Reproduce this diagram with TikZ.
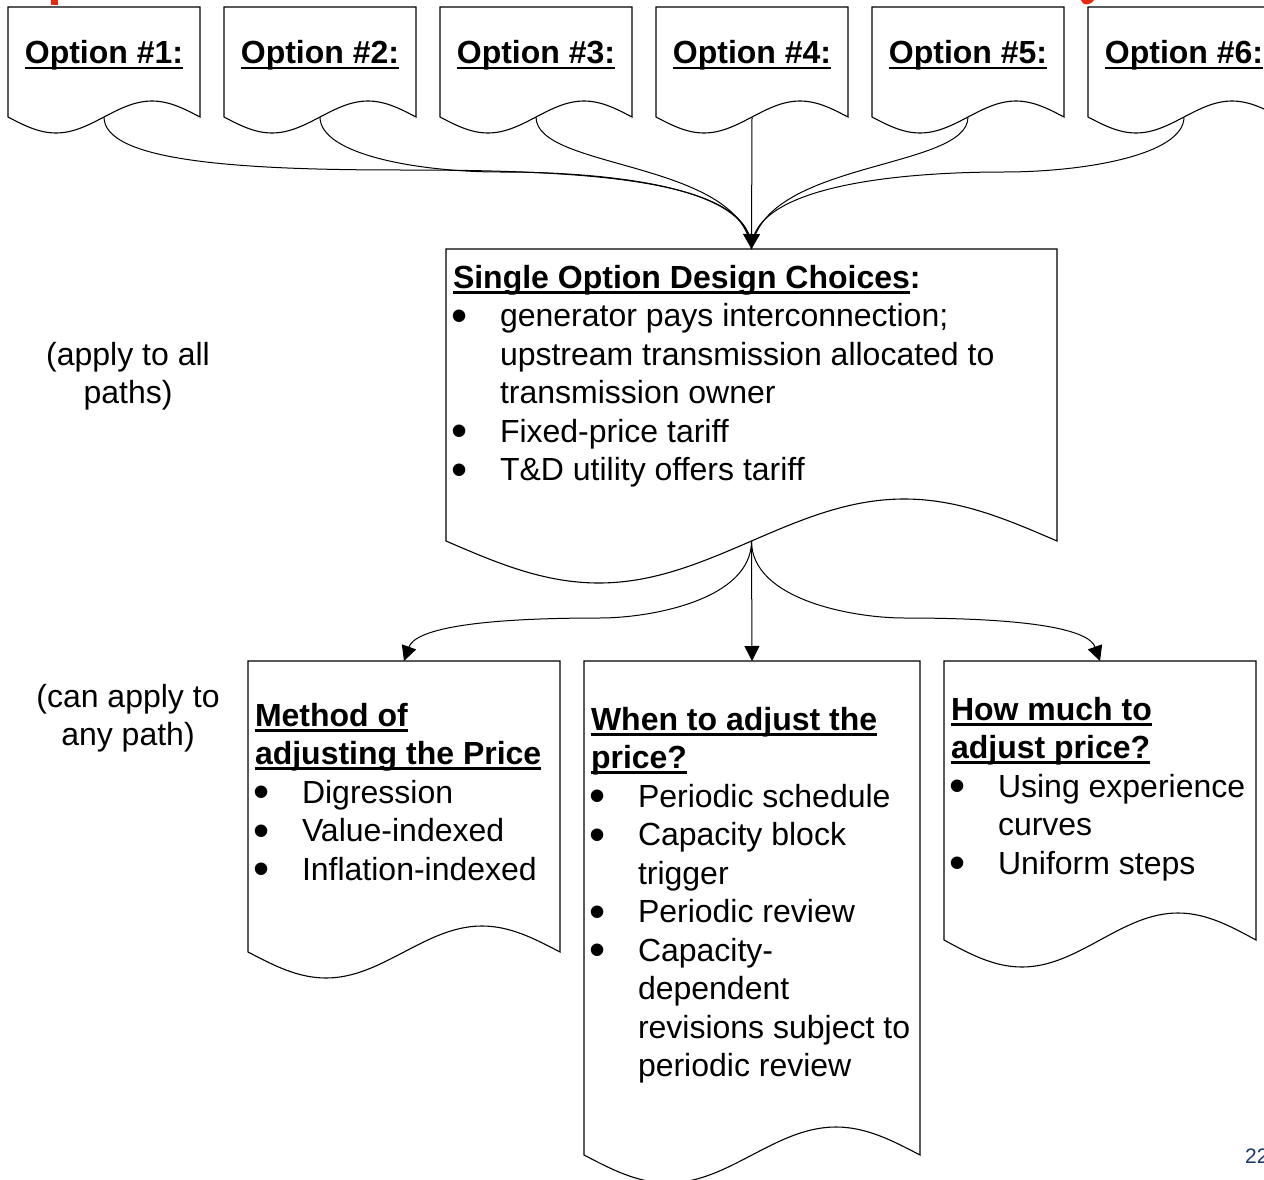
\documentclass[tikz,border=0pt]{standalone}
\usepackage{fontspec}
\setmainfont{Liberation Sans}
\usetikzlibrary{arrows.meta,calc}
\definecolor{titlered}{RGB}{232,40,12}
\definecolor{pagenum}{RGB}{28,58,110}
\newcommand\myul[1]{\setbox0\hbox{#1}\rlap{\rule[-5.5pt]{\wd0}{2.6pt}}\box0}
\newcommand\bul{\makebox[47pt][l]{\hspace*{-1.5pt}\smash{\raisebox{-4.5pt}{\fontsize{46}{46}\selectfont\textbullet}}}}
\newcommand\ind{\hspace*{47pt}}
\newcommand\docshape[2]{%
  \draw[docline] (#1.north west) -- (#1.north east) -- (#1.south east)
    sin ($(#1.south east)!0.25!(#1.south west)+(0,#2)$)
    cos ($(#1.south east)!0.5!(#1.south west)$)
    sin ($(#1.south east)!0.75!(#1.south west)-(0,#2)$)
    cos (#1.south west) -- cycle;
  \coordinate (#1w) at ($(#1.south east)!0.5!(#1.south west)$);}
\tikzset{
  docbox/.style={draw=none, inner sep=0pt, outer sep=0pt, anchor=north west},
  docline/.style={draw=black, line width=1.1pt, line join=miter},
  txt/.style={inner sep=0pt, outer sep=0pt, font=\fontsize{32}{38.5}\selectfont},
  opt/.style={txt, anchor=base, font=\fontsize{32}{38.5}\selectfont\bfseries},
  conn/.style={draw=black, line width=1pt},
  arr/.style={conn, -{Triangle[length=15pt,width=15pt]}},
  bigarr/.style={conn, -{Triangle[length=15pt,width=17pt]}},
}
\begin{document}
\begin{tikzpicture}[x=1pt,y=1pt]
\fill[white] (0,0) rectangle (1264,-1180);
\useasboundingbox (0,0) rectangle (1264,-1180);

% cut-off title remnants
\fill[titlered] (51,0) rectangle (58,-5);
\fill[titlered] (1081,0) .. controls (1082,-6) and (1090,-6) .. (1094,0) -- cycle;

% option boxes
\node[docbox, minimum width=192pt, minimum height=110pt] (o1) at (8,-7) {};
\node[docbox, minimum width=192pt, minimum height=110pt] (o2) at (224,-7) {};
\node[docbox, minimum width=192pt, minimum height=110pt] (o3) at (440,-7) {};
\node[docbox, minimum width=192pt, minimum height=110pt] (o4) at (656,-7) {};
\node[docbox, minimum width=192pt, minimum height=110pt] (o5) at (872,-7) {};
\node[docbox, minimum width=192pt, minimum height=110pt] (o6) at (1088,-7) {};
\docshape{o1}{16}
\docshape{o2}{16}
\docshape{o3}{16}
\docshape{o4}{16}
\docshape{o5}{16}
\docshape{o6}{16}
\node[opt] (ol1) at (104,-64) {\myul{Option \#1:}};
\node[opt] (ol2) at (320,-64) {\myul{Option \#2:}};
\node[opt] (ol3) at (536,-64) {\myul{Option \#3:}};
\node[opt] (ol4) at (752,-64) {\myul{Option \#4:}};
\node[opt] (ol5) at (968,-64) {\myul{Option \#5:}};
\node[opt] (ol6) at (1184,-64) {\myul{Option \#6:}};

% single option box
\node[docbox, minimum width=611pt, minimum height=292pt] (single) at (446,-249) {};
\docshape{single}{42}
\node[txt, anchor=base west] (st) at (453,-288) {\begin{tabular}[t]{@{}l@{}}
\textbf{\myul{Single Option Design Choices}:}\\
\bul generator pays interconnection;\\
\ind upstream transmission allocated to\\
\ind transmission owner\\
\bul Fixed-price tariff\\
\bul T\&D utility offers tariff
\end{tabular}};

% bottom boxes
\node[docbox, minimum width=312pt, minimum height=291pt] (method) at (248,-661) {};
\node[docbox, minimum width=336pt, minimum height=494pt] (when) at (584,-661) {};
\node[docbox, minimum width=312pt, minimum height=279pt] (how) at (944,-661) {};
\docshape{method}{26}
\docshape{when}{28}
\docshape{how}{27}
\node[txt, anchor=base west] (mt) at (255,-726) {\begin{tabular}[t]{@{}l@{}}
\textbf{\myul{Method of}}\\
\textbf{\myul{adjusting the Price}}\\
\bul Digression\\
\bul Value-indexed\\
\bul Inflation-indexed
\end{tabular}};
\node[txt, anchor=base west] (wt) at (591,-730) {\begin{tabular}[t]{@{}l@{}}
\textbf{\myul{When to adjust the}}\\
\textbf{\myul{price?}}\\
\bul Periodic schedule\\
\bul Capacity block\\
\ind trigger\\
\bul Periodic review\\
\bul Capacity-\\
\ind dependent\\
\ind revisions subject to\\
\ind periodic review
\end{tabular}};
\node[txt, anchor=base west] (ht) at (951,-720) {\begin{tabular}[t]{@{}l@{}}
\textbf{\myul{How much to}}\\
\textbf{\myul{adjust price?}}\\
\bul Using experience\\
\ind curves\\
\bul Uniform steps
\end{tabular}};

% side labels
\node[txt, anchor=base] (lab1) at (128,-365) {\begin{tabular}[t]{@{}c@{}}(apply to all\\paths)\end{tabular}};
\node[txt, anchor=base] (lab2) at (128,-707) {\begin{tabular}[t]{@{}c@{}}(can apply to\\any path)\end{tabular}};

% page number (cut off at the right edge, as in the reference)
\node[anchor=base west, inner sep=0pt, text=pagenum, font=\fontsize{21}{25}\selectfont] (pg) at (1245,-1163) {22};

% connectors top
\coordinate (j1) at (400,-170);
\coordinate (j2) at (500,-172);
\coordinate (j6) at (1004,-172);
\draw[conn] (o1w) .. controls +(0,-43) and +(-170,0) .. (j1) .. controls +(180,0) and +(0,71) .. (single.north);
\draw[conn] (o2w) .. controls +(0,-38) and +(-80,0) .. (j2) .. controls +(110,0) and +(0,62) .. (single.north);
\draw[conn] (o3w) .. controls +(0,-53) and +(-12,89) .. (single.north);
\draw[bigarr] (o4w) -- (single.north);
\draw[conn] (o5w) .. controls +(0,-53) and +(12,89) .. (single.north);
\draw[conn] (o6w) .. controls +(0,-38) and +(80,0) .. (j6) .. controls +(-110,0) and +(0,62) .. (single.north);

% connectors bottom
\coordinate (jl) at (600,-618);
\coordinate (jr) at (904,-618);
\draw[arr] (singlew) .. controls +(0,-59) and +(50,0) .. (jl) .. controls +(-130,0) and +(11,31) .. (method.north);
\draw[arr] (singlew) -- (when.north);
\draw[arr] (singlew) .. controls +(0,-59) and +(-50,0) .. (jr) .. controls +(130,0) and +(-11,31) .. (how.north);
\end{tikzpicture}
\end{document}
